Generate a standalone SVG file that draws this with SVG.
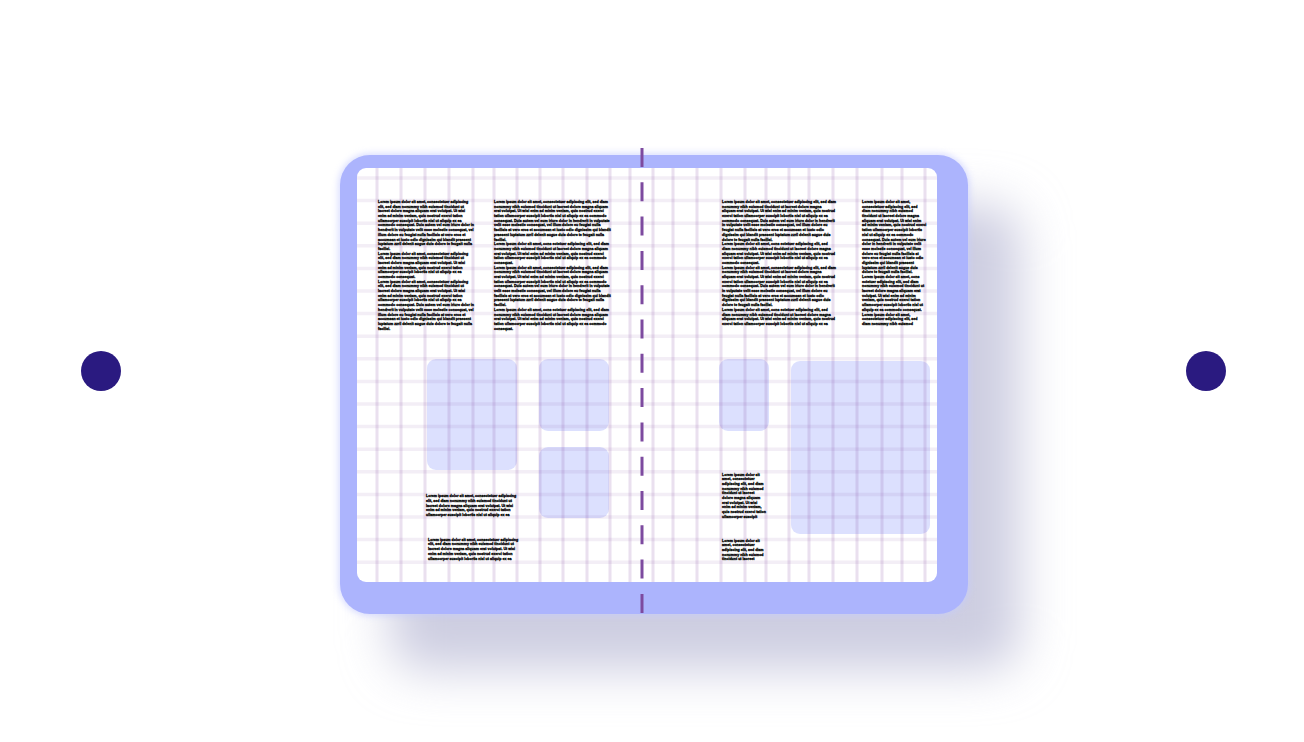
<svg xmlns="http://www.w3.org/2000/svg" width="1304" height="742" viewBox="0 0 1304 742">
<defs>
<style>
.t{font-family:"Liberation Sans",Arial,sans-serif;font-weight:bold;font-size:3.6px;fill:#000;stroke:#000;stroke-width:0.3}
.vl{stroke:#8e5aa8;stroke-opacity:0.19;stroke-width:3}
.hl{stroke:#8e5aa8;stroke-opacity:0.1;stroke-width:3.5}
.ph{fill:#acb4fd;fill-opacity:0.42}
.dot{fill:#2a1a80}
</style>
<filter id="sh" x="-30%" y="-30%" width="160%" height="160%"><feGaussianBlur stdDeviation="24"/></filter>
<filter id="gl" x="-10%" y="-10%" width="120%" height="120%"><feGaussianBlur stdDeviation="3"/></filter>
<clipPath id="pg"><rect x="357" y="168" width="580" height="414" rx="9"/></clipPath>
</defs>
<rect width="1304" height="742" fill="#fff"/>
<g id="dot-left"><circle class="dot" cx="101" cy="371" r="20"/></g>
<g id="dot-right"><circle class="dot" cx="1206" cy="371" r="20"/></g>
<g id="tablet">
<rect x="390" y="205" width="630" height="465" rx="32" fill="#cdcee1" filter="url(#sh)"/>
<rect x="338" y="153" width="632" height="463" rx="32" fill="#c4caff" opacity="0.6" filter="url(#gl)"/>
<rect x="340" y="155" width="628" height="459" rx="30" fill="#acb4fd"/>
<rect x="357" y="168" width="580" height="414" rx="9" fill="#fff"/>
</g>
<g id="placeholders">
<rect class="ph" x="427" y="359" width="90" height="111" rx="9"/>
<rect class="ph" x="539" y="359" width="70" height="72" rx="9"/>
<rect class="ph" x="539" y="447" width="70" height="71" rx="9"/>
<rect class="ph" x="719" y="359" width="50" height="72" rx="9"/>
<rect class="ph" x="791" y="361" width="139" height="173" rx="9"/>
</g>
<g id="grid" clip-path="url(#pg)">
<g id="grid-h">
<line class="hl" x1="357" x2="937" y1="178" y2="178"/>
<line class="hl" x1="357" x2="937" y1="200.6" y2="200.6"/>
<line class="hl" x1="357" x2="937" y1="223.2" y2="223.2"/>
<line class="hl" x1="357" x2="937" y1="245.8" y2="245.8"/>
<line class="hl" x1="357" x2="937" y1="268.4" y2="268.4"/>
<line class="hl" x1="357" x2="937" y1="291" y2="291"/>
<line class="hl" x1="357" x2="937" y1="313.6" y2="313.6"/>
<line class="hl" x1="357" x2="937" y1="336.2" y2="336.2"/>
<line class="hl" x1="357" x2="937" y1="358.8" y2="358.8"/>
<line class="hl" x1="357" x2="937" y1="381.4" y2="381.4"/>
<line class="hl" x1="357" x2="937" y1="404" y2="404"/>
<line class="hl" x1="357" x2="937" y1="426.6" y2="426.6"/>
<line class="hl" x1="357" x2="937" y1="449.2" y2="449.2"/>
<line class="hl" x1="357" x2="937" y1="471.8" y2="471.8"/>
<line class="hl" x1="357" x2="937" y1="494.4" y2="494.4"/>
<line class="hl" x1="357" x2="937" y1="517" y2="517"/>
<line class="hl" x1="357" x2="937" y1="539.6" y2="539.6"/>
<line class="hl" x1="357" x2="937" y1="562.2" y2="562.2"/>
</g>
<g id="grid-v">
<line class="vl" y1="168" y2="582" x1="377" x2="377"/>
<line class="vl" y1="168" y2="582" x1="401" x2="401"/>
<line class="vl" y1="168" y2="582" x1="425" x2="425"/>
<line class="vl" y1="168" y2="582" x1="449" x2="449"/>
<line class="vl" y1="168" y2="582" x1="473" x2="473"/>
<line class="vl" y1="168" y2="582" x1="494" x2="494"/>
<line class="vl" y1="168" y2="582" x1="517" x2="517"/>
<line class="vl" y1="168" y2="582" x1="540" x2="540"/>
<line class="vl" y1="168" y2="582" x1="563" x2="563"/>
<line class="vl" y1="168" y2="582" x1="587" x2="587"/>
<line class="vl" y1="168" y2="582" x1="610" x2="610"/>
<line class="vl" y1="168" y2="582" x1="630" x2="630"/>
<line class="vl" y1="168" y2="582" x1="653" x2="653"/>
<line class="vl" y1="168" y2="582" x1="673" x2="673"/>
<line class="vl" y1="168" y2="582" x1="697" x2="697"/>
<line class="vl" y1="168" y2="582" x1="721" x2="721"/>
<line class="vl" y1="168" y2="582" x1="745" x2="745"/>
<line class="vl" y1="168" y2="582" x1="766" x2="766"/>
<line class="vl" y1="168" y2="582" x1="789" x2="789"/>
<line class="vl" y1="168" y2="582" x1="809" x2="809"/>
<line class="vl" y1="168" y2="582" x1="833" x2="833"/>
<line class="vl" y1="168" y2="582" x1="857" x2="857"/>
<line class="vl" y1="168" y2="582" x1="882" x2="882"/>
<line class="vl" y1="168" y2="582" x1="902" x2="902"/>
<line class="vl" y1="168" y2="582" x1="925" x2="925"/>
</g>
</g>
<g id="text-left-col1">
<text class="t" x="378" y="203">
<tspan x="378">Lorem ipsum dolor sit amet, consectetuer adipiscing</tspan>
<tspan x="378" dy="4.69">elit, sed diam nonummy nibh euismod tincidunt ut</tspan>
<tspan x="378" dy="4.69">laoreet dolore magna aliquam erat volutpat. Ut wisi</tspan>
<tspan x="378" dy="4.69">enim ad minim veniam, quis nostrud exerci tation</tspan>
<tspan x="378" dy="4.69">ullamcorper suscipit lobortis nisl ut aliquip ex ea</tspan>
<tspan x="378" dy="4.69">commodo consequat. Duis autem vel eum iriure dolor in</tspan>
<tspan x="378" dy="4.69">hendrerit in vulputate velit esse molestie consequat, vel</tspan>
<tspan x="378" dy="4.69">illum dolore eu feugiat nulla facilisis at vero eros et</tspan>
<tspan x="378" dy="4.69">accumsan et iusto odio dignissim qui blandit praesent</tspan>
<tspan x="378" dy="4.69">luptatum zzril delenit augue duis dolore te feugait nulla</tspan>
<tspan x="378" dy="4.69">facilisi.</tspan>
<tspan x="378" dy="4.69">Lorem ipsum dolor sit amet, consectetuer adipiscing</tspan>
<tspan x="378" dy="4.69">elit, sed diam nonummy nibh euismod tincidunt ut</tspan>
<tspan x="378" dy="4.69">laoreet dolore magna aliquam erat volutpat. Ut wisi</tspan>
<tspan x="378" dy="4.69">enim ad minim veniam, quis nostrud exerci tation</tspan>
<tspan x="378" dy="4.69">ullamcorper suscipit lobortis nisl ut aliquip ex ea</tspan>
<tspan x="378" dy="4.69">commodo consequat.</tspan>
<tspan x="378" dy="4.69">Lorem ipsum dolor sit amet, consectetuer adipiscing</tspan>
<tspan x="378" dy="4.69">elit, sed diam nonummy nibh euismod tincidunt ut</tspan>
<tspan x="378" dy="4.69">laoreet dolore magna aliquam erat volutpat. Ut wisi</tspan>
<tspan x="378" dy="4.69">enim ad minim veniam, quis nostrud exerci tation</tspan>
<tspan x="378" dy="4.69">ullamcorper suscipit lobortis nisl ut aliquip ex ea</tspan>
<tspan x="378" dy="4.69">commodo consequat. Duis autem vel eum iriure dolor in</tspan>
<tspan x="378" dy="4.69">hendrerit in vulputate velit esse molestie consequat, vel</tspan>
<tspan x="378" dy="4.69">illum dolore eu feugiat nulla facilisis at vero eros et</tspan>
<tspan x="378" dy="4.69">accumsan et iusto odio dignissim qui blandit praesent</tspan>
<tspan x="378" dy="4.69">luptatum zzril delenit augue duis dolore te feugait nulla</tspan>
<tspan x="378" dy="4.69">facilisi.</tspan>
</text>
</g>
<g id="text-left-col2">
<text class="t" x="494" y="203">
<tspan x="494">Lorem ipsum dolor sit amet, consectetuer adipiscing elit, sed diam</tspan>
<tspan x="494" dy="4.69">nonummy nibh euismod tincidunt ut laoreet dolore magna aliquam</tspan>
<tspan x="494" dy="4.69">erat volutpat. Ut wisi enim ad minim veniam, quis nostrud exerci</tspan>
<tspan x="494" dy="4.69">tation ullamcorper suscipit lobortis nisl ut aliquip ex ea commodo</tspan>
<tspan x="494" dy="4.69">consequat. Duis autem vel eum iriure dolor in hendrerit in vulputate</tspan>
<tspan x="494" dy="4.69">velit esse molestie consequat, vel illum dolore eu feugiat nulla</tspan>
<tspan x="494" dy="4.69">facilisis at vero eros et accumsan et iusto odio dignissim qui blandit</tspan>
<tspan x="494" dy="4.69">praesent luptatum zzril delenit augue duis dolore te feugait nulla</tspan>
<tspan x="494" dy="4.69">facilisi.</tspan>
<tspan x="494" dy="4.69">Lorem ipsum dolor sit amet, cons ectetuer adipiscing elit, sed diam</tspan>
<tspan x="494" dy="4.69">nonummy nibh euismod tincidunt ut laoreet dolore magna aliquam</tspan>
<tspan x="494" dy="4.69">erat volutpat. Ut wisi enim ad minim veniam, quis nostrud exerci</tspan>
<tspan x="494" dy="4.69">tation ullamcorper suscipit lobortis nisl ut aliquip ex ea commodo</tspan>
<tspan x="494" dy="4.69">consequat.</tspan>
<tspan x="494" dy="4.69">Lorem ipsum dolor sit amet, consectetuer adipiscing elit, sed diam</tspan>
<tspan x="494" dy="4.69">nonummy nibh euismod tincidunt ut laoreet dolore magna aliquam</tspan>
<tspan x="494" dy="4.69">erat volutpat. Ut wisi enim ad minim veniam, quis nostrud exerci</tspan>
<tspan x="494" dy="4.69">tation ullamcorper suscipit lobortis nisl ut aliquip ex ea commodo</tspan>
<tspan x="494" dy="4.69">consequat. Duis autem vel eum iriure dolor in hendrerit in vulputate</tspan>
<tspan x="494" dy="4.69">velit esse molestie consequat, vel illum dolore eu feugiat nulla</tspan>
<tspan x="494" dy="4.69">facilisis at vero eros et accumsan et iusto odio dignissim qui blandit</tspan>
<tspan x="494" dy="4.69">praesent luptatum zzril delenit augue duis dolore te feugait nulla</tspan>
<tspan x="494" dy="4.69">facilisi.</tspan>
<tspan x="494" dy="4.69">Lorem ipsum dolor sit amet, cons ectetuer adipiscing elit, sed diam</tspan>
<tspan x="494" dy="4.69">nonummy nibh euismod tincidunt ut laoreet dolore magna aliquam</tspan>
<tspan x="494" dy="4.69">erat volutpat. Ut wisi enim ad minim veniam, quis nostrud exerci</tspan>
<tspan x="494" dy="4.69">tation ullamcorper suscipit lobortis nisl ut aliquip ex ea commodo</tspan>
<tspan x="494" dy="4.69">consequat.</tspan>
</text>
</g>
<g id="text-left-lower">
<text class="t" x="426" y="497">
<tspan x="426">Lorem ipsum dolor sit amet, consectetuer adipiscing</tspan>
<tspan x="426" dy="4.8">elit, sed diam nonummy nibh euismod tincidunt ut</tspan>
<tspan x="426" dy="4.8">laoreet dolore magna aliquam erat volutpat. Ut wisi</tspan>
<tspan x="426" dy="4.8">enim ad minim veniam, quis nostrud exerci tation</tspan>
<tspan x="426" dy="4.8">ullamcorper suscipit lobortis nisl ut aliquip ex ea</tspan>
</text>
<text class="t" x="428" y="540.5">
<tspan x="428">Lorem ipsum dolor sit amet, consectetuer adipiscing</tspan>
<tspan x="428" dy="4.8">elit, sed diam nonummy nibh euismod tincidunt ut</tspan>
<tspan x="428" dy="4.8">laoreet dolore magna aliquam erat volutpat. Ut wisi</tspan>
<tspan x="428" dy="4.8">enim ad minim veniam, quis nostrud exerci tation</tspan>
<tspan x="428" dy="4.8">ullamcorper suscipit lobortis nisl ut aliquip ex ea</tspan>
</text>
</g>
<g id="text-right-col1">
<text class="t" x="722" y="203">
<tspan x="722">Lorem ipsum dolor sit amet, consectetuer adipiscing elit, sed diam</tspan>
<tspan x="722" dy="4.69">nonummy nibh euismod tincidunt ut laoreet dolore magna</tspan>
<tspan x="722" dy="4.69">aliquam erat volutpat. Ut wisi enim ad minim veniam, quis nostrud</tspan>
<tspan x="722" dy="4.69">exerci tation ullamcorper suscipit lobortis nisl ut aliquip ex ea</tspan>
<tspan x="722" dy="4.69">commodo consequat. Duis autem vel eum iriure dolor in hendrerit</tspan>
<tspan x="722" dy="4.69">in vulputate velit esse molestie consequat, vel illum dolore eu</tspan>
<tspan x="722" dy="4.69">feugiat nulla facilisis at vero eros et accumsan et iusto odio</tspan>
<tspan x="722" dy="4.69">dignissim qui blandit praesent luptatum zzril delenit augue duis</tspan>
<tspan x="722" dy="4.69">dolore te feugait nulla facilisi.</tspan>
<tspan x="722" dy="4.69">Lorem ipsum dolor sit amet, cons ectetuer adipiscing elit, sed</tspan>
<tspan x="722" dy="4.69">diam nonummy nibh euismod tincidunt ut laoreet dolore magna</tspan>
<tspan x="722" dy="4.69">aliquam erat volutpat. Ut wisi enim ad minim veniam, quis nostrud</tspan>
<tspan x="722" dy="4.69">exerci tation ullamcorper suscipit lobortis nisl ut aliquip ex ea</tspan>
<tspan x="722" dy="4.69">commodo consequat.</tspan>
<tspan x="722" dy="4.69">Lorem ipsum dolor sit amet, consectetuer adipiscing elit, sed diam</tspan>
<tspan x="722" dy="4.69">nonummy nibh euismod tincidunt ut laoreet dolore magna</tspan>
<tspan x="722" dy="4.69">aliquam erat volutpat. Ut wisi enim ad minim veniam, quis nostrud</tspan>
<tspan x="722" dy="4.69">exerci tation ullamcorper suscipit lobortis nisl ut aliquip ex ea</tspan>
<tspan x="722" dy="4.69">commodo consequat. Duis autem vel eum iriure dolor in hendrerit</tspan>
<tspan x="722" dy="4.69">in vulputate velit esse molestie consequat, vel illum dolore eu</tspan>
<tspan x="722" dy="4.69">feugiat nulla facilisis at vero eros et accumsan et iusto odio</tspan>
<tspan x="722" dy="4.69">dignissim qui blandit praesent luptatum zzril delenit augue duis</tspan>
<tspan x="722" dy="4.69">dolore te feugait nulla facilisi.</tspan>
<tspan x="722" dy="4.69">Lorem ipsum dolor sit amet, cons ectetuer adipiscing elit, sed</tspan>
<tspan x="722" dy="4.69">diam nonummy nibh euismod tincidunt ut laoreet dolore magna</tspan>
<tspan x="722" dy="4.69">aliquam erat volutpat. Ut wisi enim ad minim veniam, quis nostrud</tspan>
<tspan x="722" dy="4.69">exerci tation ullamcorper suscipit lobortis nisl ut aliquip ex ea</tspan>
</text>
</g>
<g id="text-right-col2">
<text class="t" x="862" y="203">
<tspan x="862">Lorem ipsum dolor sit amet,</tspan>
<tspan x="862" dy="4.69">consectetuer adipiscing elit, sed</tspan>
<tspan x="862" dy="4.69">diam nonummy nibh euismod</tspan>
<tspan x="862" dy="4.69">tincidunt ut laoreet dolore magna</tspan>
<tspan x="862" dy="4.69">aliquam erat volutpat. Ut wisi enim</tspan>
<tspan x="862" dy="4.69">ad minim veniam, quis nostrud exerci</tspan>
<tspan x="862" dy="4.69">tation ullamcorper suscipit lobortis</tspan>
<tspan x="862" dy="4.69">nisl ut aliquip ex ea commodo</tspan>
<tspan x="862" dy="4.69">consequat. Duis autem vel eum iriure</tspan>
<tspan x="862" dy="4.69">dolor in hendrerit in vulputate velit</tspan>
<tspan x="862" dy="4.69">esse molestie consequat, vel illum</tspan>
<tspan x="862" dy="4.69">dolore eu feugiat nulla facilisis at</tspan>
<tspan x="862" dy="4.69">vero eros et accumsan et iusto odio</tspan>
<tspan x="862" dy="4.69">dignissim qui blandit praesent</tspan>
<tspan x="862" dy="4.69">luptatum zzril delenit augue duis</tspan>
<tspan x="862" dy="4.69">dolore te feugait nulla facilisi.</tspan>
<tspan x="862" dy="4.69">Lorem ipsum dolor sit amet, cons</tspan>
<tspan x="862" dy="4.69">ectetuer adipiscing elit, sed diam</tspan>
<tspan x="862" dy="4.69">nonummy nibh euismod tincidunt ut</tspan>
<tspan x="862" dy="4.69">laoreet dolore magna aliquam erat</tspan>
<tspan x="862" dy="4.69">volutpat. Ut wisi enim ad minim</tspan>
<tspan x="862" dy="4.69">veniam, quis nostrud exerci tation</tspan>
<tspan x="862" dy="4.69">ullamcorper suscipit lobortis nisl ut</tspan>
<tspan x="862" dy="4.69">aliquip ex ea commodo consequat.</tspan>
<tspan x="862" dy="4.69">Lorem ipsum dolor sit amet,</tspan>
<tspan x="862" dy="4.69">consectetuer adipiscing elit, sed</tspan>
<tspan x="862" dy="4.69">diam nonummy nibh euismod</tspan>
</text>
</g>
<g id="text-right-lower">
<text class="t" x="722" y="475.5">
<tspan x="722">Lorem ipsum dolor sit</tspan>
<tspan x="722" dy="4.7">amet, consectetuer</tspan>
<tspan x="722" dy="4.7">adipiscing elit, sed diam</tspan>
<tspan x="722" dy="4.7">nonummy nibh euismod</tspan>
<tspan x="722" dy="4.7">tincidunt ut laoreet</tspan>
<tspan x="722" dy="4.7">dolore magna aliquam</tspan>
<tspan x="722" dy="4.7">erat volutpat. Ut wisi</tspan>
<tspan x="722" dy="4.7">enim ad minim veniam,</tspan>
<tspan x="722" dy="4.7">quis nostrud exerci tation</tspan>
<tspan x="722" dy="4.7">ullamcorper suscipit</tspan>
</text>
<text class="t" x="722" y="541.5">
<tspan x="722">Lorem ipsum dolor sit</tspan>
<tspan x="722" dy="4.7">amet, consectetuer</tspan>
<tspan x="722" dy="4.7">adipiscing elit, sed diam</tspan>
<tspan x="722" dy="4.7">nonummy nibh euismod</tspan>
<tspan x="722" dy="4.7">tincidunt ut laoreet</tspan>
</text>
</g>
<g id="fold-line">
<line x1="642" y1="148" x2="642" y2="614" stroke="#7d4a9f" stroke-width="3" stroke-dasharray="19 15.3"/>
</g>
</svg>
